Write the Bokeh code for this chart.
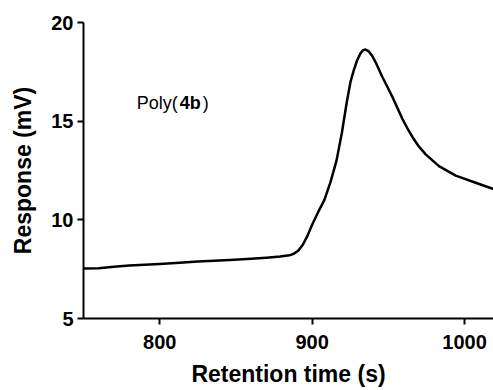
from bokeh.plotting import figure
from bokeh.models import Range1d, Label, FixedTicker
from bokeh.embed import file_html
from bokeh.resources import INLINE

# Data
time_s = [750, 760, 770, 780, 790, 800, 813, 825, 846, 860, 870, 879, 885, 888, 891,
          894, 897, 900, 904, 908, 912, 916, 919.5, 922.8, 925.2, 927.5, 929.6, 931.8,
          933.5, 935, 937, 939.5, 942.5, 946, 949.5, 952.7, 956, 959.2, 962.5, 965.8,
          970, 974.5, 983.2, 994.2, 1007.3, 1020]
response_mv = [7.53, 7.55, 7.62, 7.68, 7.72, 7.76, 7.83, 7.89, 7.97, 8.03, 8.08, 8.14,
               8.2, 8.28, 8.45, 8.75, 9.2, 9.75, 10.4, 11.0, 11.9, 13.0, 14.4, 16.0,
               17.0, 17.62, 18.1, 18.45, 18.6, 18.63, 18.55, 18.3, 17.85, 17.25, 16.72,
               16.22, 15.66, 15.12, 14.64, 14.2, 13.72, 13.32, 12.72, 12.24, 11.88, 11.53]
x_ticks = [800, 900, 1000]
y_ticks = [5, 10, 15, 20]
label_pos = (785, 15.9)

FONT = "Liberation Sans"

p = figure(width=493, height=390, output_backend="svg", toolbar_location=None,
           x_range=Range1d(750, 1019), y_range=Range1d(5, 20),
           min_border_left=83, min_border_right=0, min_border_top=22,
           min_border_bottom=72)
p.outline_line_color = None
p.xgrid.visible = False
p.ygrid.visible = False
p.background_fill_color = "white"
p.border_fill_color = "white"

p.line(time_s, response_mv, line_color="black", line_width=2.5, line_join="round")

for ax in (p.xaxis[0], p.yaxis[0]):
    ax.axis_line_width = 2
    ax.axis_line_color = "black"
    ax.major_tick_line_width = 2
    ax.major_tick_line_color = "black"
    ax.major_tick_out = 6
    ax.major_tick_in = 0
    ax.minor_tick_line_color = None
    ax.major_label_text_font = FONT
    ax.major_label_text_font_style = "bold"
    ax.major_label_text_font_size = "20px"
    ax.major_label_text_color = "black"
    ax.axis_label_text_font = FONT
    ax.axis_label_text_font_style = "bold"
    ax.axis_label_text_font_size = "23px"
    ax.axis_label_text_color = "black"

p.xaxis.ticker = FixedTicker(ticks=x_ticks)
p.yaxis.ticker = FixedTicker(ticks=y_ticks)
p.xaxis.axis_label = "Retention time (s)"
p.yaxis.axis_label = "Response (mV)"
p.xaxis.major_label_standoff = 10
p.xaxis.axis_label_standoff = 9
p.yaxis.major_label_standoff = 4
p.yaxis.axis_label_standoff = 12

p.add_layout(Label(x=label_pos[0], y=label_pos[1], text="Poly(", text_font=FONT,
                   text_font_size="18px", text_baseline="middle", text_color="black"))
p.add_layout(Label(x=label_pos[0], y=label_pos[1], x_offset=43, text="4b", text_font=FONT,
                   text_font_style="bold", text_font_size="18px",
                   text_baseline="middle", text_color="black"))
p.add_layout(Label(x=label_pos[0], y=label_pos[1], x_offset=66, text=")", text_font=FONT,
                   text_font_size="18px", text_baseline="middle", text_color="black"))

open("out.html", "w").write(file_html(p, INLINE))
